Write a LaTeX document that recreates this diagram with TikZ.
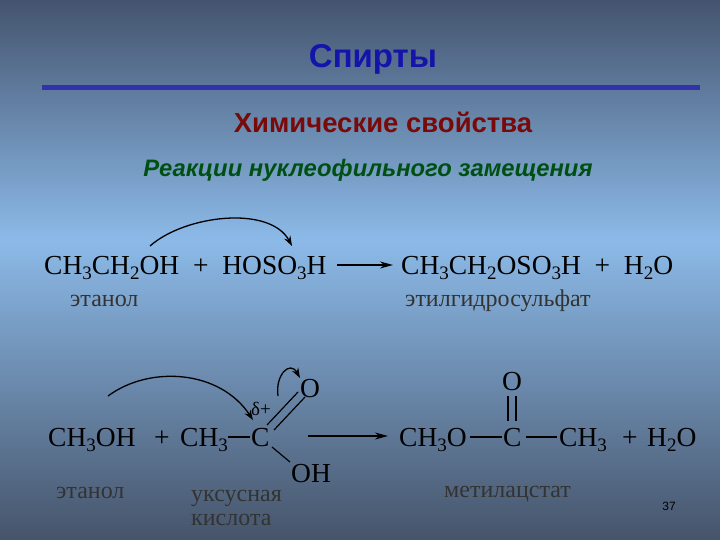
\documentclass[tikz,border=0pt]{standalone}
\usepackage{fontspec}
\setmainfont{Liberation Serif}
\newfontfamily\sansf{Liberation Sans}
\usetikzlibrary{arrows.meta}
\newcommand{\sbs}[1]{\raisebox{-5pt}{\fontsize{19}{19}\selectfont #1}}
\begin{document}
\begin{tikzpicture}[x=1pt,y=-1pt,
  chem/.style={inner sep=0pt,anchor=base west,font=\fontsize{27.5}{30}\selectfont},
  lab/.style={inner sep=0pt,anchor=base west,font=\fontsize{24}{26}\selectfont,text=black!80},
  bond/.style={line width=1.2pt},
  rarrow/.style={line width=1.3pt,-{Stealth[length=13pt,width=7pt]}},
  carrow/.style={line width=1.3pt,-{Stealth[length=10pt,width=7pt]}}]
\shade[top color={rgb,255:red,68;green,84;blue,110},bottom color={rgb,255:red,140;green,186;blue,232}] (0,0) rectangle (720,240);
\shade[top color={rgb,255:red,140;green,186;blue,232},bottom color={rgb,255:red,70;green,84;blue,106}] (0,240) rectangle (720,540);
\useasboundingbox (0,0) rectangle (720,540);
\node[inner sep=0pt,font=\sansf\bfseries\fontsize{33}{36}\selectfont,text={rgb,255:red,20;green,20;blue,170}] (title) at (373,59) {Спирты};
\draw[line width=5pt,draw={rgb,255:red,50;green,50;blue,170}] (42,88) -- (700,88);
\node[inner sep=0pt,font=\sansf\bfseries\fontsize{27.5}{30}\selectfont,text={rgb,255:red,120;green,10;blue,10}] (sub) at (383,122) {Химические свойства};
\node[inner sep=0pt,font=\sansf\bfseries\itshape\fontsize{23.8}{26}\selectfont,text={rgb,255:red,0;green,80;blue,20}] (sub2) at (368,170) {Реакции нуклеофильного замещения};
% reaction 1
\node[chem] (r1a) at (44,274) {CH\sbs{3}CH\sbs{2}OH \ + \ HOSO\sbs{3}H};
\coordinate (a1s) at (337,265); \coordinate (a1e) at (393,265);
\draw[rarrow] (a1s) -- (a1e);
\node[chem] (r1b) at (401,274) {CH\sbs{3}CH\sbs{2}OSO\sbs{3}H \ + \ H\sbs{2}O};
\node[lab] (l1) at (70,306) {этанол};
\node[lab] (l2) at (405,306) {этилгидросульфат};
\coordinate (c1s) at (150,246); \coordinate (c1e) at (292,246);
\draw[carrow] (c1s) .. controls (185,215) and (270,205) .. (c1e);
% reaction 2
\node[chem] (m1) at (48,446) {CH\sbs{3}OH};
\node[chem] (pl1) at (154,446) {+};
\node[chem] (m2) at (180,446) {CH\sbs{3}};
\node[chem] (C1) at (251,446) {C};
\coordinate (b1) at (228,437); \coordinate (b2) at (250,437);
\draw[bond] (b1) -- (b2);
\node[chem] (O1) at (300,397) {O};
\node[chem] (OH1) at (291,482) {OH};
\draw[bond] (267,425) -- (298,392);
\draw[bond] (274,430) -- (305,397);
\draw[bond] (272,447) -- (290,462);
\node[inner sep=0pt,anchor=base west,font=\fontsize{19}{21}\selectfont] (dp) at (251,415) {δ+};
\node[lab] (l3) at (56,498) {этанол};
\node[lab] (l4) at (191,501) {уксусная};
\node[lab] (l5) at (191,525) {кислота};
\coordinate (c2s) at (108,396); \coordinate (c2e) at (253,420);
\draw[carrow] (c2s) .. controls (150,365) and (220,370) .. (c2e);
\coordinate (c3s) at (278,396); \coordinate (c3e) at (300,378);
\draw[carrow] (c3s) .. controls (275,375) and (290,360) .. (c3e);
\coordinate (a2s) at (308,436); \coordinate (a2e) at (388,436);
\draw[rarrow] (a2s) -- (a2e);
\node[chem] (p1) at (399,446) {CH\sbs{3}O};
\draw[bond] (470,437) -- (502,437);
\node[chem] (C2) at (503,446) {C};
\node[chem] (O2) at (502,390) {O};
\draw[bond] (508,396) -- (508,421);
\draw[bond] (516,396) -- (516,421);
\draw[bond] (526,437) -- (557,437);
\node[chem] (p2) at (559,446) {CH\sbs{3}};
\node[chem] (pl2) at (622,446) {+};
\node[chem] (p3) at (647,446) {H\sbs{2}O};
\node[lab] (l6) at (444,497) {метилацстат};
\node[inner sep=0pt,font=\sansf\fontsize{12}{14}\selectfont] (pg) at (669,506) {37};
\end{tikzpicture}
\end{document}
